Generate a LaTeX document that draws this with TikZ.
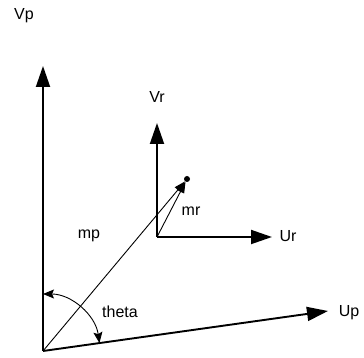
\documentclass[tikz,border=0pt]{standalone}
\usepackage{fontspec}
\setmainfont{Liberation Sans}
\usetikzlibrary{arrows.meta}
\begin{document}
\begin{tikzpicture}[x=1pt,y=1pt,
  axis/.style={line width=1.9pt,-{Triangle[length=21pt,width=14pt]}},
  vec/.style={line width=0.9pt,-{Triangle[length=11pt,width=8pt]}},
  lbl/.style={font=\fontsize{16}{19}\selectfont,inner sep=0pt},
  angarrow/.style={line width=0.9pt,{Stealth[length=11pt,width=9pt,inset=2pt]}-{Stealth[length=11pt,width=9pt,inset=2pt]}}]
\useasboundingbox (0,0) rectangle (364,358);
\coordinate (O) at (43,7);
\coordinate (vptip) at (43,292);
\coordinate (uptip) at (328,47);
\coordinate (R) at (157,121);
\coordinate (vrtip) at (157,235);
\coordinate (urtip) at (272,121);
\node[circle,fill=black,inner sep=0pt,minimum size=6pt] (dot) at (187,179) {};
\draw[axis] (O) -- (vptip);
\draw[axis] (O) -- (uptip);
\draw[axis] (R) -- (vrtip);
\draw[axis] (R) -- (urtip);
\draw[vec] (O) -- (dot);
\draw[vec] (R) -- (dot);
\draw[angarrow] ([shift={(90:57)}]O) arc[start angle=90,end angle=8,radius=57];
\node[lbl] (vplbl) at (24,342) {Vp};
\node[lbl] (vrlbl) at (157,261) {Vr};
\node[lbl] (urlbl) at (288,122) {Ur};
\node[lbl] (uplbl) at (349,45) {Up};
\node[lbl] (mrlbl) at (191,147) {mr};
\node[lbl] (mplbl) at (89,122) {mp};
\node[lbl] (thetalbl) at (120,46) {theta};
\end{tikzpicture}
\end{document}
